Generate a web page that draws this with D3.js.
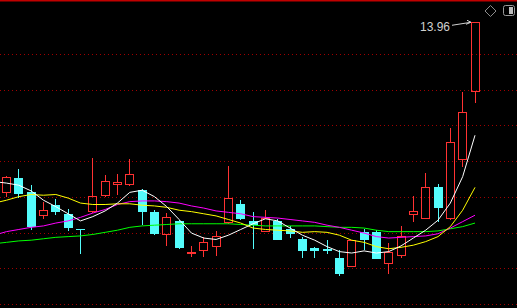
<!DOCTYPE html>
<html>
<head>
<meta charset="utf-8">
<script src="https://cdn.jsdelivr.net/npm/d3@7"></script>
<style>
html, body { margin: 0; padding: 0; background: #000; overflow: hidden; }
svg { display: block; }
</style>
</head>
<body>
<div id="chart"></div>
<script>
// daily bars, oldest first
const open  = [11.56, 11.77, 11.58, 11.24, 11.39, 11.27, 11.06, 11.30, 11.52, 11.67, 11.67, 11.60, 11.30, 10.97, 11.17, 10.71, 10.75, 10.81, 11.14, 11.41,
               11.17, 11.02, 11.17, 11.06, 10.92, 10.79, 10.78, 10.65, 10.53, 11.01, 11.01, 10.57, 10.68, 11.25, 11.20, 11.65, 11.20, 12.02, 12.98];
const high  = [11.80, 11.90, 11.67, 11.44, 11.48, 11.34, 11.06, 12.05, 11.81, 11.83, 12.04, 11.62, 11.32, 11.28, 11.18, 10.82, 10.95, 11.03, 11.94, 11.46,
               11.30, 11.32, 11.20, 11.10, 10.95, 10.80, 10.90, 10.76, 10.90, 11.06, 11.04, 10.86, 11.10, 11.52, 11.84, 11.69, 12.47, 12.98, 13.96];
const low   = [11.51, 11.49, 11.04, 11.20, 11.25, 11.03, 10.71, 11.28, 11.51, 11.53, 11.66, 11.11, 10.97, 10.82, 10.78, 10.67, 10.67, 10.68, 11.13, 11.18,
               10.78, 11.02, 10.90, 10.93, 10.65, 10.65, 10.71, 10.40, 10.53, 10.76, 10.63, 10.43, 10.65, 11.16, 11.19, 11.16, 11.18, 11.93, 12.82];
const close = [11.79, 11.55, 11.08, 11.32, 11.30, 11.07, 11.05, 11.52, 11.73, 11.72, 11.83, 11.30, 10.99, 11.23, 10.79, 10.74, 10.88, 10.96, 11.49, 11.20,
               11.11, 11.21, 10.90, 10.98, 10.75, 10.75, 10.75, 10.43, 10.90, 10.90, 10.64, 10.74, 10.96, 11.31, 11.65, 11.35, 12.28, 12.70, 13.95];

// moving averages, first value is the day before the first visible bar
const ma5  = [11.72, 11.70, 11.67, 11.59, 11.46, 11.37, 11.27, 11.17, 11.23, 11.31, 11.42, 11.57, 11.60, 11.51, 11.37, 11.19, 11.00, 10.93, 10.91, 10.97,
              11.05, 11.13, 11.20, 11.17, 11.07, 10.97, 10.90, 10.81, 10.74, 10.72, 10.75, 10.72, 10.74, 10.82, 10.93, 11.04, 11.18, 11.42, 11.79, 12.37];
const ma10 = [11.42, 11.46, 11.51, 11.54, 11.53, 11.54, 11.49, 11.42, 11.40, 11.40, 11.41, 11.41, 11.39, 11.38, 11.36, 11.32, 11.30, 11.27, 11.24, 11.19,
              11.14, 11.07, 11.05, 11.04, 11.03, 11.01, 11.02, 11.01, 10.97, 10.90, 10.87, 10.81, 10.78, 10.80, 10.83, 10.88, 10.95, 11.09, 11.32, 11.64];
const ma20 = [10.97, 11.02, 11.05, 11.08, 11.10, 11.14, 11.17, 11.22, 11.28, 11.33, 11.40, 11.44, 11.45, 11.45, 11.44, 11.42, 11.38, 11.35, 11.31, 11.29,
              11.27, 11.23, 11.22, 11.21, 11.19, 11.17, 11.15, 11.11, 11.08, 11.04, 11.00, 10.95, 10.93, 10.94, 10.95, 10.96, 10.99, 11.07, 11.16, 11.25];
const ma30 = [10.85, 10.87, 10.89, 10.90, 10.92, 10.94, 10.95, 10.96, 10.98, 11.01, 11.04, 11.08, 11.10, 11.11, 11.12, 11.13, 11.13, 11.13, 11.13, 11.13,
              11.12, 11.11, 11.10, 11.10, 11.10, 11.10, 11.10, 11.09, 11.08, 11.08, 11.07, 11.04, 11.02, 11.02, 11.02, 11.02, 11.03, 11.06, 11.09, 11.14];

const gridPrices = [10.0, 10.5, 11.0, 11.5, 12.0, 12.5, 13.0, 13.5];

const w = 517;
const h = 308;
const upColor = '#ff3232';
const downColor = '#54fcfc';

const bars = open.map((o, i) => ({ i: i, o: o, h: high[i], l: low[i], c: close[i] }));

const svg = d3.select('#chart')
  .append('svg')
  .attr('width', w)
  .attr('height', h)
  .style('background', '#000');

svg.append('clipPath')
  .attr('id', 'plot')
  .append('rect')
  .attr('width', w)
  .attr('height', h);

const xScale = d3.scaleLinear()
  .domain([0, bars.length - 1])
  .range([6.5, 475]);

const yScale = d3.scaleLinear()
  .domain([9.95, 14.265])
  .range([h, 0]);

const px = v => Math.floor(v) + 0.5;

// dotted grid
svg.append('g')
  .selectAll('line')
  .data(gridPrices)
  .enter()
  .append('line')
  .attr('x1', 0)
  .attr('x2', w)
  .attr('y1', d => px(yScale(d)))
  .attr('y2', d => px(yScale(d)))
  .attr('stroke', '#a00000')
  .attr('stroke-width', 1)
  .attr('stroke-dasharray', '1,3')
  .attr('shape-rendering', 'crispEdges');

// top border
svg.append('line')
  .attr('x1', 0).attr('x2', w)
  .attr('y1', 0.5).attr('y2', 0.5)
  .attr('stroke', '#c00000')
  .attr('stroke-width', 2);

// candles
const candles = svg.append('g')
  .attr('shape-rendering', 'crispEdges');

bars.forEach(d => {
  const cx = px(xScale(d.i));
  const up = d.c >= d.o;
  const bodyTop = Math.round(yScale(Math.max(d.o, d.c)));
  const bodyBot = Math.max(Math.round(yScale(Math.min(d.o, d.c))), bodyTop + 1);
  const hi = Math.round(yScale(d.h));
  const lo = Math.round(yScale(d.l));
  const color = up ? upColor : downColor;

  if (up) {
    if (hi < bodyTop) candles.append('line').attr('x1', cx).attr('x2', cx).attr('y1', hi).attr('y2', bodyTop).attr('stroke', color);
    if (lo > bodyBot) candles.append('line').attr('x1', cx).attr('x2', cx).attr('y1', bodyBot).attr('y2', lo).attr('stroke', color);
    candles.append('rect')
      .attr('x', cx - 4)
      .attr('y', bodyTop + 0.5)
      .attr('width', 8)
      .attr('height', Math.max(bodyBot - bodyTop - 1, 0))
      .attr('fill', 'none')
      .attr('stroke', color);
  } else {
    candles.append('line').attr('x1', cx).attr('x2', cx).attr('y1', hi).attr('y2', Math.max(lo, hi + 1)).attr('stroke', color);
    candles.append('rect')
      .attr('x', cx - 4.5)
      .attr('y', bodyTop)
      .attr('width', 9)
      .attr('height', bodyBot - bodyTop)
      .attr('fill', color);
  }
});

// moving average lines
const maLine = d3.line()
  .x((d, i) => xScale(i - 1))
  .y(d => yScale(d));

const maSeries = [
  { values: ma30, color: '#00ff00' },
  { values: ma20, color: '#ff00ff' },
  { values: ma10, color: '#ffff00' },
  { values: ma5, color: '#ffffff' }
];

svg.append('g')
  .attr('clip-path', 'url(#plot)')
  .selectAll('path')
  .data(maSeries)
  .enter()
  .append('path')
  .attr('d', d => maLine(d.values))
  .attr('fill', 'none')
  .attr('stroke', d => d.color)
  .attr('stroke-width', 1);

// highest price marker
const peak = d3.maxIndex(high);
const hx = xScale(peak);
const hy = yScale(high[peak]);

svg.append('text')
  .attr('x', hx - 25)
  .attr('y', hy + 9)
  .attr('text-anchor', 'end')
  .attr('fill', '#d0d0d0')
  .style('font-family', 'Liberation Sans, Arial, sans-serif')
  .style('font-size', '12px')
  .text(d3.format('.2f')(high[peak]));

svg.append('path')
  .attr('d', 'M' + (hx - 23) + ',' + (hy + 3.5) + 'L' + (hx - 4) + ',' + (hy + 0.5)
    + 'M' + (hx - 8) + ',' + (hy - 1.5) + 'L' + (hx - 4) + ',' + (hy + 0.5) + 'L' + (hx - 9) + ',' + (hy + 2.5))
  .attr('fill', 'none')
  .attr('stroke', '#d0d0d0')
  .attr('stroke-width', 1);

// toolbar icons, top right
svg.append('path')
  .attr('d', 'M490.5,5.5L496,11L490.5,16.5L485,11Z')
  .attr('fill', 'none')
  .attr('stroke', '#8c8c8c');

svg.append('rect')
  .attr('x', 503.5).attr('y', 5.5)
  .attr('width', 11).attr('height', 10)
  .attr('rx', 2)
  .attr('fill', 'none')
  .attr('stroke', '#9a9a9a');

svg.append('rect')
  .attr('x', 509).attr('y', 7)
  .attr('width', 4).attr('height', 7)
  .attr('fill', '#bdbdbd');
</script>
</body>
</html>
